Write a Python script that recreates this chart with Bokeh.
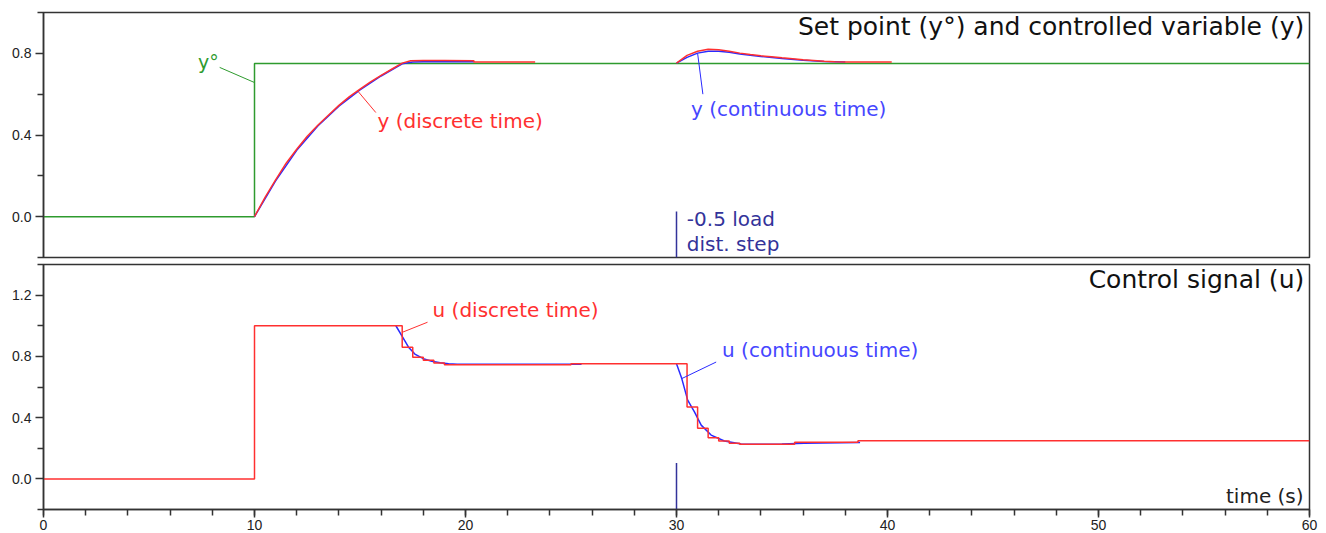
from bokeh.plotting import figure
from bokeh.layouts import column
from bokeh.models import Label, FixedTicker, Range1d, PrintfTickFormatter
from bokeh.embed import file_html
from bokeh.resources import INLINE

# ---------------- data ----------------
x_major = [0, 10, 20, 30, 40, 50, 60]
x_minor = list(range(0, 61, 2))
top_major = [0.0, 0.4, 0.8]
top_minor = [-0.2, 0.2, 0.6, 1.0]
bot_major = [0.0, 0.4, 0.8, 1.2]
bot_minor = [-0.2, 0.2, 0.6, 1.0, 1.4]

setpoint_t = [0, 10, 10, 60]
setpoint_v = [0.0, 0.0, 0.75, 0.75]

y_disc_t1 = [10.0, 10.5, 11.0, 11.5, 12.0, 12.5, 13.0, 13.5, 14.0, 14.5, 15.0, 15.5,
             16.0, 16.5, 17.0, 17.4, 18.0, 19.0, 20.4, 20.4, 22.0, 23.3]
y_disc_v1 = [0.0, 0.095, 0.18, 0.262, 0.33, 0.394, 0.448, 0.497, 0.545, 0.588, 0.625, 0.66,
             0.692, 0.722, 0.752, 0.764, 0.765, 0.765, 0.764, 0.758, 0.758, 0.758]
y_cont_t1 = [10.0, 11.0, 12.0, 13.0, 14.0, 15.0, 16.0, 17.0, 17.5, 18.5, 20.4]
y_cont_v1 = [0.0, 0.175, 0.325, 0.444, 0.541, 0.621, 0.689, 0.749, 0.758, 0.760, 0.759]

y_disc_t2 = [30.0, 30.5, 31.0, 31.5, 32.0, 32.5, 33.0, 33.5, 34.0, 34.5, 35.0, 35.5,
             36.0, 36.5, 37.0, 37.5, 38.0, 40.2]
y_disc_v2 = [0.752, 0.79, 0.81, 0.82, 0.817, 0.81, 0.801, 0.794, 0.788, 0.783, 0.778, 0.774,
             0.769, 0.765, 0.761, 0.759, 0.758, 0.758]
y_cont_t2 = [30.0, 30.5, 31.0, 31.5, 32.0, 32.5, 33.0, 34.0, 35.0, 36.0, 37.0, 38.0]
y_cont_v2 = [0.752, 0.78, 0.801, 0.81, 0.81, 0.805, 0.797, 0.785, 0.775, 0.766, 0.76, 0.757]

u_disc_t = [0, 10, 17.0, 17.5, 18.0, 18.5, 19.0, 25.0, 30.5, 31.0, 31.5, 32.0, 32.5,
            33.0, 35.6, 38.6, 60]
u_disc_v = [0.0, 1.0, 0.86, 0.795, 0.774, 0.757, 0.746, 0.752, 0.47, 0.33, 0.269, 0.247,
            0.232, 0.226, 0.239, 0.249, 0.249]

u_cont_t1 = [16.7, 17.0, 17.3, 17.6, 18.0, 18.4, 18.8, 19.2, 19.6, 22.0, 25.5]
u_cont_v1 = [1.0, 0.93, 0.86, 0.815, 0.785, 0.768, 0.758, 0.752, 0.749, 0.748, 0.748]
u_cont_t2 = [30.0, 30.25, 30.53, 30.85, 31.17, 31.64, 32.27, 33.06, 34.0, 35.0, 36.05, 38.7]
u_cont_v2 = [0.752, 0.655, 0.514, 0.438, 0.351, 0.286, 0.247, 0.228, 0.226, 0.228, 0.232, 0.237]

dist_time = 30

# ---------------- style ----------------
RED = "#ff3030"
BLUE = "#2a2aff"
BLUE_TXT = "#4646ff"
GREEN = "#2e9b2e"
NAVY = "#33339a"
AX = "#333333"
FONT = "DejaVu Sans"
TICKFONT = "Liberation Sans"


def make_fig(height, btop, bbot, yr, major, minor, show_x):
    p = figure(width=1326, height=height, output_backend="svg", toolbar_location=None,
               x_range=Range1d(0, 60), y_range=Range1d(*yr),
               min_border_left=43, min_border_right=17, min_border_top=btop,
               min_border_bottom=bbot)
    p.xgrid.visible = False
    p.ygrid.visible = False
    p.outline_line_color = AX
    p.outline_line_width = 1.5
    p.background_fill_color = "white"
    p.border_fill_color = "white"
    for ax in p.yaxis:
        ax.ticker = FixedTicker(ticks=major, minor_ticks=minor)
        ax.formatter = PrintfTickFormatter(format="%.1f")
    for ax in p.xaxis:
        ax.ticker = FixedTicker(ticks=x_major, minor_ticks=x_minor)
    for ax in list(p.xaxis) + list(p.yaxis):
        ax.axis_line_color = AX
        ax.axis_line_width = 1.5
        ax.major_tick_line_color = AX
        ax.major_tick_line_width = 1.5
        ax.minor_tick_line_color = AX
        ax.minor_tick_line_width = 1.5
        ax.major_tick_in = 0
        ax.minor_tick_in = 0
        ax.major_label_text_font = TICKFONT
        ax.major_label_text_font_size = "14px"
        ax.major_label_text_color = "#222222"
    p.yaxis.major_tick_out = 8
    p.yaxis.minor_tick_out = 6
    p.yaxis.major_label_standoff = 4
    p.xaxis.major_tick_out = 8
    p.xaxis.minor_tick_out = 6
    p.xaxis.major_label_standoff = 2
    if not show_x:
        p.xaxis.visible = False
    return p


def label(p, x, y, text, color, size="20px", align="left"):
    p.add_layout(Label(x=x, y=y, text=text, text_color=color, text_font=FONT,
                       text_font_size=size, text_align=align, text_baseline="middle"))


# ---------------- top panel ----------------
top = make_fig(260, 12, 3, (-0.2, 1.0), top_major, top_minor, False)
top.line(setpoint_t, setpoint_v, line_color=GREEN, line_width=1.5)
top.line(y_cont_t1, y_cont_v1, line_color=BLUE, line_width=1.5)
top.line(y_cont_t2, y_cont_v2, line_color=BLUE, line_width=1.5)
top.line(y_disc_t1, y_disc_v1, line_color=RED, line_width=1.5)
top.line(y_disc_t2, y_disc_v2, line_color=RED, line_width=1.5)
top.line([dist_time, dist_time], [0.025, -0.2], line_color=NAVY, line_width=1.5)

top.line([8.35, 10.0], [0.731, 0.657], line_color=GREEN, line_width=1)
label(top, 8.3, 0.76, "y°", GREEN, "19px", "right")
top.line([14.88, 15.75], [0.617, 0.51], line_color=RED, line_width=1)
label(top, 15.83, 0.469, "y (discrete time)", RED)
top.line([31.0, 31.25], [0.80, 0.60], line_color=BLUE, line_width=1)
label(top, 30.69, 0.528, "y (continuous time)", BLUE_TXT)
label(top, 30.49, -0.013, "-0.5 load", NAVY)
label(top, 30.49, -0.132, "dist. step", NAVY)
label(top, 59.75, 0.932, "Set point (y°) and controlled variable (y)", "#111111", "25px", "right")

# ---------------- bottom panel ----------------
bot = make_fig(272, 4, 23, (-0.2, 1.4), bot_major, bot_minor, True)
bot.line(u_cont_t1, u_cont_v1, line_color=BLUE, line_width=1.5)
bot.line(u_cont_t2, u_cont_v2, line_color=BLUE, line_width=1.5)
bot.step(u_disc_t, u_disc_v, mode="after", line_color=RED, line_width=1.5)
bot.line([dist_time, dist_time], [0.104, -0.2], line_color=NAVY, line_width=1.5)

bot.line([18.2, 17.02], [1.023, 0.958], line_color=RED, line_width=1)
label(bot, 18.44, 1.104, "u (discrete time)", RED)
bot.line([31.88, 30.25], [0.763, 0.655], line_color=BLUE, line_width=1)
label(bot, 32.16, 0.839, "u (continuous time)", BLUE_TXT)
label(bot, 59.72, -0.115, "time (s)", "#222222", "20px", "right")
label(bot, 59.75, 1.305, "Control signal (u)", "#111111", "25px", "right")

layout = column(top, bot, spacing=0)
open("out.html", "w").write(file_html(layout, INLINE))
